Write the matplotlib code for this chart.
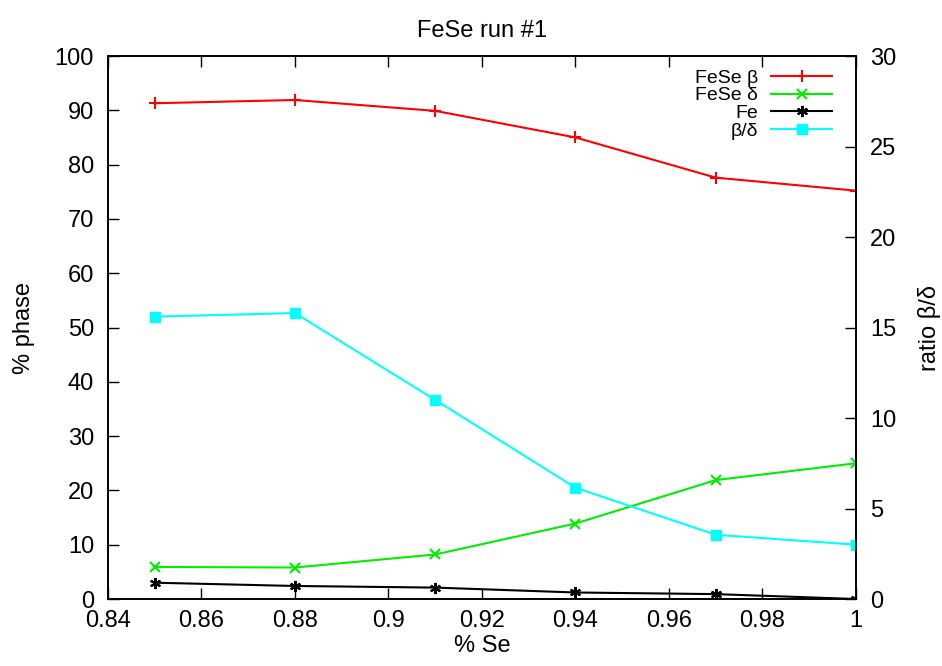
import matplotlib
matplotlib.use("Agg")
import matplotlib.pyplot as plt
from matplotlib.lines import Line2D

plt.rcParams['font.family'] = ['Liberation Sans', 'DejaVu Sans']

se_fraction = [0.85, 0.88, 0.91, 0.94, 0.97, 1.00]
fese_beta = [91.3, 91.9, 89.9, 85.0, 77.6, 75.2]
fese_delta = [5.9, 5.8, 8.2, 13.9, 21.9, 25.0]
fe = [3.0, 2.4, 2.1, 1.2, 0.9, 0.0]
ratio_beta_delta = [15.6, 15.8, 11.0, 6.15, 3.55, 3.0]

x_ticks = [0.84, 0.86, 0.88, 0.9, 0.92, 0.94, 0.96, 0.98, 1.0]
x_tick_labels = ['0.84', '0.86', '0.88', '0.9', '0.92', '0.94', '0.96', '0.98', '1']
y_ticks = list(range(0, 101, 10))
y2_ticks = list(range(0, 31, 5))

fig = plt.figure(figsize=(9.42, 6.66), dpi=100)
ax = fig.add_axes([0.1146, 0.1006, 0.7941, 0.8153])
ax2 = ax.twinx()

lw = 1.5
ax.plot(se_fraction, fese_beta, color='#ff0000', lw=lw, marker='+', ms=9, mew=1.5)
ax.plot(se_fraction, fese_delta, color='#00ee00', lw=lw, marker='x', ms=7, mew=1.5)
ax.plot(se_fraction, fe, color='black', lw=lw, marker=(6, 2, 0), ms=8, mew=1.5)
ax2.plot(se_fraction, ratio_beta_delta, color='#00ffff', lw=lw, marker='s', ms=7)

ax.set_xlim(0.84, 1.0)
ax.set_ylim(0, 100)
ax2.set_ylim(0, 30)

ax.set_xticks(x_ticks)
ax.set_xticklabels(x_tick_labels)
ax.set_yticks(y_ticks)
ax2.set_yticks(y2_ticks)

fs = 17
ax.tick_params(axis='x', direction='in', top=True, length=8, width=1, labelsize=fs, pad=8)
ax.tick_params(axis='y', direction='in', length=8, width=1, labelsize=fs, pad=10)
ax2.tick_params(axis='y', direction='in', length=8, width=1, labelsize=fs, pad=10)

for a in (ax, ax2):
    for s in a.spines.values():
        s.set_linewidth(1.2)

ax.set_xlabel('% Se', fontsize=fs, labelpad=2)
ax.set_ylabel('% phase', fontsize=fs, labelpad=14)
ax2.set_ylabel('ratio β/δ', fontsize=fs, labelpad=16)
ax.set_title('FeSe run #1', fontsize=fs, pad=14)

handles = [
    Line2D([], [], color='#ff0000', lw=lw, marker='+', ms=9, mew=1.5),
    Line2D([], [], color='#00ee00', lw=lw, marker='x', ms=7, mew=1.5),
    Line2D([], [], color='black', lw=lw, marker=(6, 2, 0), ms=8, mew=1.5),
    Line2D([], [], color='#00ffff', lw=lw, marker='s', ms=7),
]
labels = ['FeSe β', 'FeSe δ', 'Fe', 'β/δ']
leg = ax.legend(handles, labels, loc='upper right', frameon=False, fontsize=14,
                markerfirst=False, handlelength=3.1, labelspacing=0.0,
                borderaxespad=0.0, handletextpad=0.7, bbox_to_anchor=(0.978, 0.99))
for t in leg.get_texts():
    t.set_ha('right')

fig.savefig('out.png', dpi=100)
